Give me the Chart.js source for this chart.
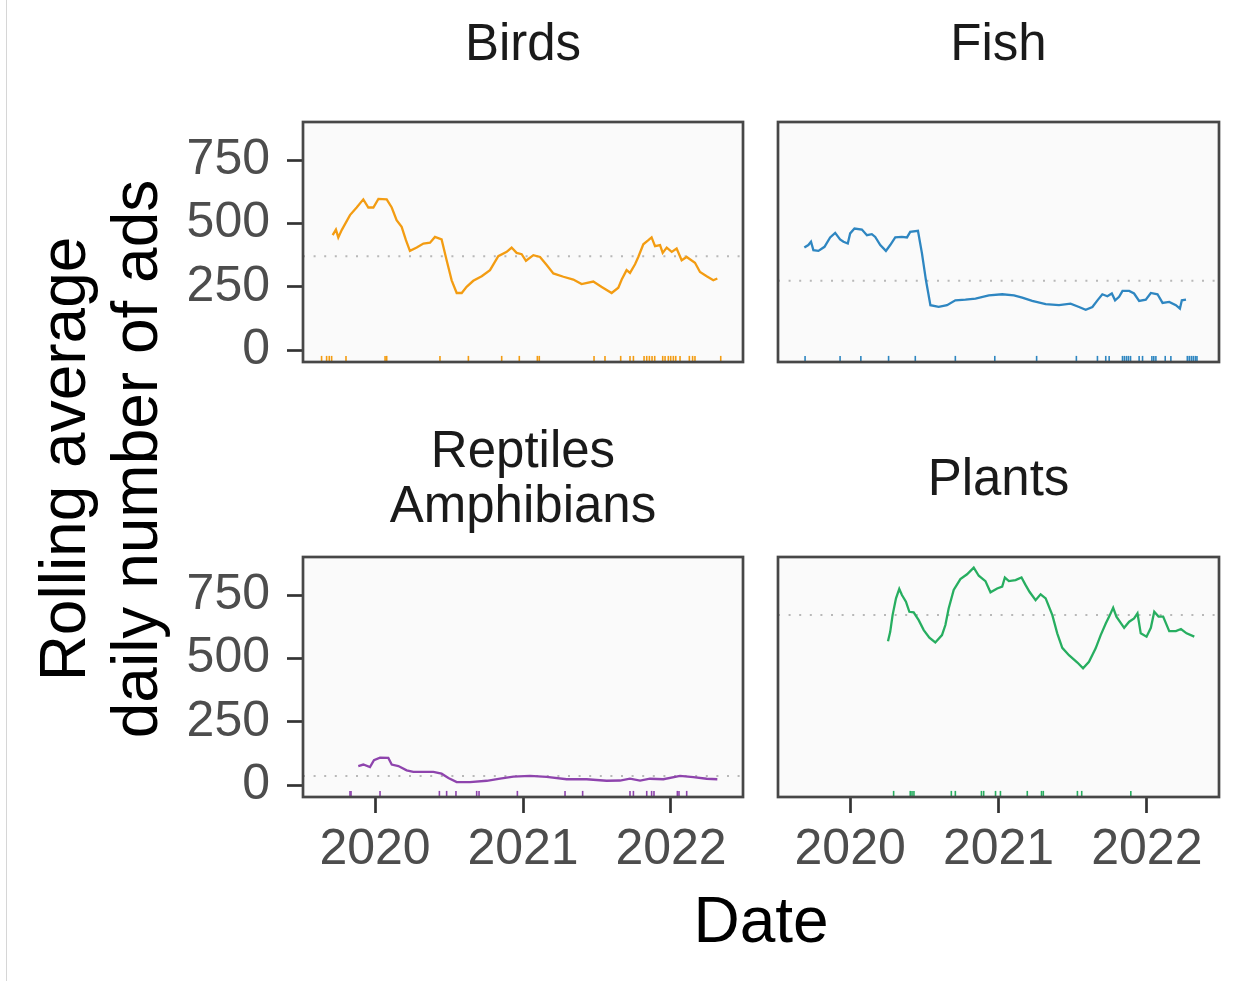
<!DOCTYPE html>
<html>
<head>
<meta charset="utf-8">
<script src="https://cdn.jsdelivr.net/npm/chart.js@4.4.1/dist/chart.umd.min.js"></script>
<style>
  body { margin: 0; width: 1249px; height: 981px; background: #fff; overflow: hidden; position: relative; font-family: "Liberation Sans", Arial, sans-serif; }
  canvas { position: absolute; }
  .lbl { position: absolute; text-align: center; color: #1a1a1a; white-space: nowrap; }
  #edge { position: absolute; left: 6px; top: 0; width: 1px; height: 981px; background: #d6d6d6; }
</style>
</head>
<body>
<div id="edge"></div>

<div class="lbl" style="left:303px; top:17px; width:440px; font-size:51px; line-height:51px;">Birds</div>
<div class="lbl" style="left:778px; top:17px; width:441px; font-size:51px; line-height:51px;">Fish</div>
<div class="lbl" style="left:303px; top:422px; width:440px; font-size:51px; line-height:55px;">Reptiles<br>Amphibians</div>
<div class="lbl" style="left:778px; top:452px; width:441px; font-size:51px; line-height:51px;">Plants</div>
<div class="lbl" style="left:303px; top:888px; width:916px; font-size:64px; line-height:64px; color:#000;">Date</div>
<div class="lbl" style="left:-251px; top:387px; width:700px; height:144px; font-size:64px; line-height:72px; color:#000; transform:rotate(-90deg);">Rolling average<br>daily number of ads</div>

<canvas id="birds" width="566" height="246" style="left:180px; top:119px;"></canvas>
<canvas id="fish" width="447" height="246" style="left:775px; top:119px;"></canvas>
<canvas id="reptiles" width="566" height="343" style="left:180px; top:554px;"></canvas>
<canvas id="plants" width="447" height="343" style="left:775px; top:554px;"></canvas>

<script>
// axis ticks
var yearTicks = [2020, 2021, 2022];
var countTicks = [0, 250, 500, 750];

// Birds rolling average (decimal year, ads)
var birdsX = [2019.714, 2019.736, 2019.752, 2019.775, 2019.831, 2019.876, 2019.921, 2019.955, 2019.989, 2020.023,
  2020.079, 2020.113, 2020.146, 2020.180, 2020.209, 2020.236, 2020.282, 2020.327, 2020.372, 2020.405,
  2020.450, 2020.484, 2020.518, 2020.552, 2020.586, 2020.619, 2020.664, 2020.721, 2020.777, 2020.833,
  2020.890, 2020.923, 2020.957, 2020.991, 2021.020, 2021.070, 2021.115, 2021.160, 2021.205, 2021.273,
  2021.340, 2021.396, 2021.475, 2021.532, 2021.599, 2021.644, 2021.667, 2021.700, 2021.723, 2021.757,
  2021.779, 2021.813, 2021.847, 2021.869, 2021.892, 2021.926, 2021.944, 2021.971, 2022.005, 2022.038,
  2022.072, 2022.106, 2022.162, 2022.196, 2022.241, 2022.286, 2022.313];
var birdsY = [454, 476, 445, 474, 533, 563, 595, 563, 563, 597,
  595, 563, 513, 487, 434, 392, 405, 421, 424, 447,
  437, 355, 276, 226, 226, 250, 274, 292, 316, 371,
  388, 405, 384, 379, 353, 375, 368, 336, 303, 290,
  279, 261, 271, 250, 226, 247, 279, 316, 305, 339,
  368, 418, 434, 445, 411, 415, 384, 405, 388, 401,
  355, 368, 345, 309, 292, 276, 283];
var birdsMean = 371;
var birdsRug = [2019.639, 2019.673, 2019.691, 2019.707, 2019.804, 2020.068, 2020.079, 2020.439, 2020.631, 2020.856,
  2020.975, 2021.097, 2021.110, 2021.480, 2021.554, 2021.660, 2021.723, 2021.746, 2021.818, 2021.836,
  2021.854, 2021.872, 2021.890, 2021.944, 2021.960, 2021.982, 2021.998, 2022.016, 2022.032, 2022.061,
  2022.124, 2022.146, 2022.162, 2022.336];

// Fish
var fishX = [2019.691, 2019.718, 2019.736, 2019.752, 2019.786, 2019.827, 2019.865, 2019.899, 2019.932, 2019.955,
  2019.984, 2020.000, 2020.029, 2020.079, 2020.113, 2020.146, 2020.169, 2020.203, 2020.241, 2020.270,
  2020.304, 2020.349, 2020.383, 2020.405, 2020.457, 2020.484, 2020.511, 2020.541, 2020.597, 2020.653,
  2020.709, 2020.777, 2020.845, 2020.935, 2021.025, 2021.104, 2021.160, 2021.227, 2021.318, 2021.408,
  2021.486, 2021.543, 2021.588, 2021.633, 2021.667, 2021.700, 2021.734, 2021.764, 2021.786, 2021.813,
  2021.836, 2021.881, 2021.914, 2021.948, 2021.993, 2022.027, 2022.072, 2022.106, 2022.151, 2022.196,
  2022.223, 2022.236, 2022.264];
var fishY = [405, 415, 428, 395, 392, 408, 445, 463, 437, 428,
  421, 461, 480, 476, 454, 458, 447, 415, 392, 415,
  445, 447, 445, 467, 471, 382, 276, 178, 171, 178,
  197, 200, 204, 217, 221, 217, 208, 195, 182, 178,
  184, 171, 160, 171, 197, 221, 213, 224, 197, 211,
  234, 234, 224, 195, 200, 226, 221, 187, 191, 178,
  164, 197, 200];
var fishMean = 274;
var fishRug = [2019.696, 2019.932, 2020.072, 2020.259, 2020.439, 2020.709, 2020.975, 2021.257, 2021.525, 2021.667,
  2021.723, 2021.746, 2021.836, 2021.849, 2021.863, 2021.876, 2021.890, 2021.948, 2021.971, 2022.034,
  2022.047, 2022.061, 2022.124, 2022.162, 2022.273, 2022.286, 2022.300, 2022.313, 2022.327, 2022.338];

// Reptiles / Amphibians
var reptX = [2019.887, 2019.921, 2019.966, 2019.993, 2020.034, 2020.090, 2020.113, 2020.158, 2020.214, 2020.259,
  2020.327, 2020.394, 2020.450, 2020.496, 2020.552, 2020.642, 2020.755, 2020.845, 2020.935, 2021.047,
  2021.160, 2021.295, 2021.430, 2021.565, 2021.655, 2021.723, 2021.791, 2021.858, 2021.948, 2022.061,
  2022.151, 2022.241, 2022.313];
var reptY = [76, 82, 72, 99, 109, 108, 82, 76, 59, 53,
  53, 53, 46, 29, 13, 13, 18, 26, 34, 37,
  33, 24, 24, 18, 19, 26, 19, 26, 24, 37,
  32, 26, 24];
var reptMean = 37;
var reptRug = [2019.831, 2019.838, 2020.034, 2020.435, 2020.484, 2020.547, 2020.687, 2020.703, 2020.962, 2021.284,
  2021.403, 2021.723, 2021.746, 2021.836, 2021.869, 2021.885, 2022.043, 2022.054, 2022.106];

// Plants
var plantsX = [2020.255, 2020.270, 2020.286, 2020.309, 2020.331, 2020.349, 2020.376, 2020.399, 2020.428, 2020.462,
  2020.496, 2020.534, 2020.574, 2020.619, 2020.642, 2020.664, 2020.698, 2020.743, 2020.788, 2020.833,
  2020.867, 2020.912, 2020.946, 2020.991, 2021.025, 2021.043, 2021.070, 2021.115, 2021.155, 2021.182,
  2021.209, 2021.250, 2021.284, 2021.318, 2021.363, 2021.396, 2021.430, 2021.475, 2021.532, 2021.570,
  2021.610, 2021.655, 2021.689, 2021.723, 2021.746, 2021.773, 2021.795, 2021.847, 2021.881, 2021.914,
  2021.937, 2021.959, 2021.998, 2022.027, 2022.050, 2022.079, 2022.110, 2022.151, 2022.196, 2022.230,
  2022.268, 2022.320];
var plantsY = [568, 605, 671, 737, 774, 750, 724, 684, 682, 651,
  612, 582, 563, 592, 632, 697, 770, 813, 832, 858,
  826, 805, 761, 776, 783, 819, 805, 809, 819, 790,
  763, 730, 753, 737, 671, 599, 542, 513, 484, 461,
  487, 540, 592, 638, 665, 700, 665, 621, 645, 658,
  678, 599, 586, 621, 684, 665, 665, 608, 608, 616,
  599, 586];
var plantsMean = 671;
var plantsRug = [2020.293, 2020.405, 2020.417, 2020.430, 2020.682, 2020.709, 2020.885, 2020.900, 2020.980, 2021.013,
  2021.194, 2021.290, 2021.302, 2021.532, 2021.561, 2021.892];

var xMin = 2019.5135, xMax = 2022.4865;
var yMin = -46, yMax = 900;
var rugLevel = -33;

function pts(xs, ys) {
  return xs.map(function(x, i) { return {x: x, y: ys[i]}; });
}

function noPad(s) {
  s.paddingTop = 0;
  s.paddingBottom = 0;
  s.paddingLeft = 0;
  s.paddingRight = 0;
}

var panelFrame = {
  id: 'panelFrame',
  beforeDatasetsDraw: function(chart) {
    var a = chart.chartArea, ctx = chart.ctx;
    ctx.save();
    ctx.fillStyle = '#fafafa';
    ctx.fillRect(a.left, a.top, a.right - a.left, a.bottom - a.top);
    ctx.restore();
  },
  afterDraw: function(chart) {
    var a = chart.chartArea, ctx = chart.ctx;
    ctx.save();
    ctx.strokeStyle = '#474747';
    ctx.lineWidth = 2.7;
    ctx.strokeRect(a.left, a.top, a.right - a.left, a.bottom - a.top);
    ctx.restore();
  }
};

function makePanel(id, xs, ys, mean, rug, color, showX, showY) {
  var tickFont = {family: '"Liberation Sans", Arial, sans-serif', size: 50};
  new Chart(document.getElementById(id), {
    type: 'line',
    data: {
      datasets: [
        {
          data: pts(xs, ys),
          borderColor: color,
          borderWidth: 2.3,
          pointRadius: 0,
          tension: 0,
          order: 0
        },
        {
          data: rug.map(function(x) { return {x: x, y: rugLevel}; }),
          showLine: false,
          pointStyle: 'line',
          rotation: 90,
          pointRadius: 2.8,
          pointBorderWidth: 1.6,
          pointBorderColor: color,
          pointBackgroundColor: color,
          order: 1
        },
        {
          data: [{x: xMin, y: mean}, {x: xMax, y: mean}],
          borderColor: '#b8b8b8',
          borderWidth: 2,
          borderDash: [2, 8.6],
          pointRadius: 0,
          order: 2
        }
      ]
    },
    options: {
      responsive: false,
      animation: false,
      layout: {
        autoPadding: false,
        padding: {top: 3, right: 3, bottom: showX ? 0 : 3, left: showY ? 0 : 3}
      },
      plugins: {
        legend: {display: false},
        tooltip: {enabled: false}
      },
      scales: {
        x: {
          type: 'linear',
          min: xMin,
          max: xMax,
          display: showX,
          afterBuildTicks: function(s) { s.ticks = yearTicks.map(function(v) { return {value: v}; }); },
          afterFit: function(s) { s.height = showX ? 100 : 0; noPad(s); },
          border: {display: false},
          grid: {drawOnChartArea: false, drawTicks: true, tickLength: 16, tickWidth: 2.7, tickColor: '#333'},
          ticks: {
            font: tickFont,
            color: '#4d4d4d',
            padding: 7,
            maxRotation: 0,
            autoSkip: false,
            callback: function(v) { return String(v); }
          }
        },
        y: {
          min: yMin,
          max: yMax,
          display: showY,
          afterBuildTicks: function(s) { s.ticks = countTicks.map(function(v) { return {value: v}; }); },
          afterFit: function(s) { s.width = showY ? 123 : 0; noPad(s); },
          border: {display: false},
          grid: {drawOnChartArea: false, drawTicks: true, tickLength: 16, tickWidth: 2.7, tickColor: '#333'},
          ticks: {
            font: tickFont,
            color: '#4d4d4d',
            padding: 17,
            autoSkip: false,
            callback: function(v) { return String(v); }
          }
        }
      }
    },
    plugins: [panelFrame]
  });
}

makePanel('birds', birdsX, birdsY, birdsMean, birdsRug, '#f39c12', false, true);
makePanel('fish', fishX, fishY, fishMean, fishRug, '#2e86c1', false, false);
makePanel('reptiles', reptX, reptY, reptMean, reptRug, '#8e44ad', true, true);
makePanel('plants', plantsX, plantsY, plantsMean, plantsRug, '#27ae60', true, false);
</script>
</body>
</html>
